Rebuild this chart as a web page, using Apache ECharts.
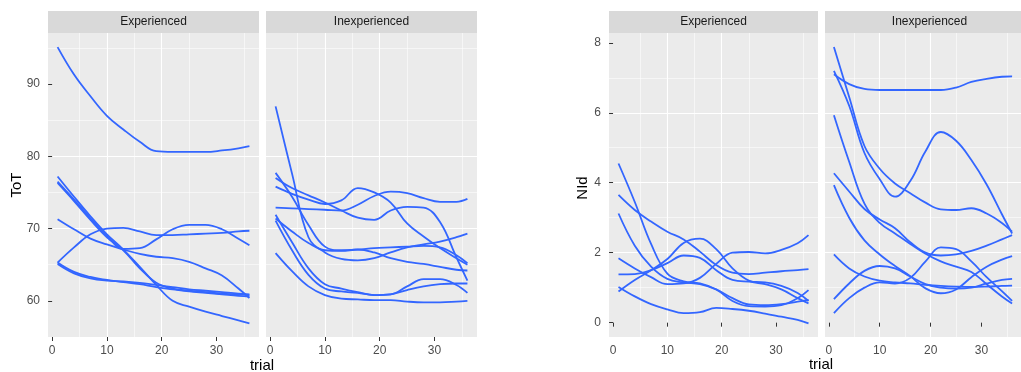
<!DOCTYPE html>
<html>
<head>
<meta charset="utf-8">
<script src="https://cdn.jsdelivr.net/npm/echarts@6/dist/echarts.min.js"></script>
<style>
  html, body { margin: 0; padding: 0; background: #ffffff; }
  #chart { width: 1021px; height: 372px; }
</style>
</head>
<body>
<div id="chart"></div>
<script>
// Trial numbers at which each smoothed curve is sampled
const trials = [1, 4, 7, 10, 13, 16, 19, 22, 25, 28, 31, 34, 36];

// Tick labels
const trialTicks = [0, 10, 20, 30];
const totTicks = [60, 70, 80, 90];
const nidTicks = [0, 2, 4, 6, 8];

// Facet names
const facets = ['Experienced', 'Inexperienced'];

// Time on task (ToT), one smoothed curve per participant
const totExperienced = [
  [95.1, 91.3, 88.3, 85.6, 83.7, 82.0, 80.7, 80.6, 80.6, 80.6, 80.8, 81.1, 81.4],
  [77.2, 74.4, 71.7, 69.2, 67.1, 64.7, 62.2, 60.0, 59.2, 58.5, 57.9, 57.3, 56.9],
  [76.5, 74.0, 71.4, 69.0, 67.2, 67.3, 68.5, 69.9, 70.5, 70.5, 69.9, 68.6, 67.7],
  [76.3, 73.8, 71.2, 68.8, 67.0, 64.5, 62.5, 61.7, 61.4, 61.2, 61.0, 60.9, 60.8],
  [71.3, 69.9, 68.6, 67.8, 67.1, 66.5, 66.1, 65.9, 65.4, 64.5, 63.5, 61.7, 60.4],
  [65.3, 67.4, 69.2, 70.0, 70.1, 69.6, 69.1, 69.1, 69.2, 69.3, 69.4, 69.6, 69.7],
  [65.3, 64.0, 63.3, 62.9, 62.6, 62.3, 61.9, 61.6, 61.3, 61.1, 60.9, 60.7, 60.6],
  [65.1, 63.8, 63.1, 62.8, 62.7, 62.5, 62.2, 61.9, 61.6, 61.4, 61.2, 61.0, 60.9]
];
const totInexperienced = [
  [86.9, 77.6, 68.8, 66.7, 65.8, 65.6, 65.9, 66.7, 67.4, 67.8, 68.2, 68.8, 69.3],
  [77.7, 74.4, 70.5, 67.5, 67.0, 67.1, 67.3, 67.4, 67.5, 67.6, 67.4, 66.3, 65.2],
  [77.0, 75.6, 74.6, 73.6, 72.5, 71.5, 71.2, 72.5, 73.0, 72.9, 70.9, 66.0, 62.8],
  [75.8, 74.8, 74.0, 73.4, 73.9, 75.6, 75.0, 73.6, 70.7, 68.9, 67.3, 65.9, 65.0],
  [72.9, 72.8, 72.7, 72.6, 72.5, 73.3, 74.5, 75.1, 74.9, 74.2, 73.7, 73.7, 74.1],
  [71.4, 69.6, 68.0, 67.0, 66.9, 67.1, 66.7, 65.9, 65.4, 65.1, 64.7, 64.3, 64.2],
  [71.9, 68.1, 64.5, 62.3, 61.7, 61.2, 60.8, 60.9, 62.0, 63.0, 63.0, 62.2, 61.1],
  [71.1, 67.0, 63.6, 61.7, 61.3, 61.1, 60.8, 60.9, 61.5, 62.0, 62.3, 62.4, 62.4],
  [66.6, 64.1, 62.0, 60.8, 60.3, 60.2, 60.1, 60.1, 59.9, 59.8, 59.8, 59.9, 60.0]
];

// NId, one smoothed curve per participant
const nidExperienced = [
  [4.55, 3.45, 2.25, 1.40, 1.18, 1.12, 0.95, 0.62, 0.47, 0.46, 0.50, 0.70, 0.93],
  [3.65, 3.22, 2.89, 2.60, 2.38, 2.03, 1.65, 1.43, 1.39, 1.43, 1.47, 1.50, 1.53],
  [3.12, 2.20, 1.60, 1.25, 1.15, 1.10, 0.95, 0.70, 0.52, 0.50, 0.53, 0.60, 0.65],
  [1.84, 1.55, 1.30, 1.10, 1.12, 1.28, 1.68, 2.00, 2.02, 1.98, 2.08, 2.27, 2.50],
  [1.38, 1.39, 1.50, 1.70, 1.92, 1.85, 1.50, 1.22, 1.17, 1.15, 1.05, 0.85, 0.62],
  [1.02, 0.75, 0.53, 0.38, 0.27, 0.30, 0.42, 0.39, 0.34, 0.26, 0.17, 0.08, -0.02],
  [0.89, 1.22, 1.50, 1.82, 2.28, 2.40, 2.10, 1.55, 1.20, 1.10, 0.95, 0.70, 0.55]
];
const nidInexperienced = [
  [7.10, 6.82, 6.68, 6.65, 6.65, 6.65, 6.65, 6.65, 6.72, 6.88, 6.97, 7.03, 7.04],
  [7.88, 6.45, 5.05, 4.40, 3.98, 3.70, 3.43, 3.24, 3.22, 3.27, 3.12, 2.85, 2.60],
  [7.20, 6.20, 4.85, 4.10, 3.60, 4.05, 4.90, 5.45, 5.20, 4.65, 3.95, 3.10, 2.55],
  [5.93, 4.60, 3.40, 2.85, 2.55, 2.25, 1.97, 1.75, 1.60, 1.45, 1.10, 0.75, 0.55],
  [4.27, 3.75, 3.25, 2.95, 2.70, 2.30, 2.00, 1.92, 1.95, 2.05, 2.20, 2.38, 2.50],
  [3.93, 3.00, 2.35, 1.95, 1.62, 1.33, 0.98, 0.84, 0.95, 1.30, 1.60, 1.80, 1.90],
  [1.95, 1.55, 1.32, 1.20, 1.15, 1.12, 1.08, 1.05, 1.03, 1.02, 1.03, 1.05, 1.06],
  [0.67, 1.12, 1.48, 1.62, 1.55, 1.32, 1.10, 1.00, 0.97, 1.00, 1.12, 1.22, 1.25],
  [0.27, 0.70, 1.00, 1.15, 1.12, 1.28, 1.75, 2.15, 2.10, 1.75, 1.30, 0.90, 0.62]
];

// ---- look and layout ----
const FONT = '"Liberation Sans", Arial, sans-serif';
const PANEL_BG = '#EBEBEB';
const STRIP_BG = '#D9D9D9';
const LINE_COLOR = '#3366FF';
const PANEL_TOP = 33;
const PANEL_H = 304;
const STRIP_H = 22;

// x range padded like ggplot (5% each side of 1..36)
const X_RANGE = [-0.75, 37.75];
const TOT_RANGE = [55.0, 97.05];
const NID_RANGE = [-0.41, 8.28];

const panels = [
  { left: 48,  width: 211, facet: facets[0], lines: totExperienced,   range: TOT_RANGE, ticks: totTicks, outer: true  },
  { left: 266, width: 211, facet: facets[1], lines: totInexperienced, range: TOT_RANGE, ticks: totTicks, outer: false },
  { left: 609, width: 209, facet: facets[0], lines: nidExperienced,   range: NID_RANGE, ticks: nidTicks, outer: true  },
  { left: 825, width: 209, facet: facets[1], lines: nidInexperienced, range: NID_RANGE, ticks: nidTicks, outer: false }
];

const grid = [], xAxis = [], yAxis = [], series = [], graphic = [];

const gridLines = {
  splitLine: { show: true, showMinLine: false, showMaxLine: false, lineStyle: { color: '#FFFFFF', width: 1.1 } },
  minorTick: { show: false, splitNumber: 2 },
  minorSplitLine: { show: true, lineStyle: { color: '#FFFFFF', width: 0.55 } }
};

panels.forEach((p, i) => {
  grid.push({
    left: p.left, top: PANEL_TOP, width: p.width, height: PANEL_H,
    show: true, backgroundColor: PANEL_BG, borderWidth: 0
  });

  xAxis.push(Object.assign({
    type: 'value', gridIndex: i, min: X_RANGE[0], max: X_RANGE[1],
    axisLine: { show: false },
    axisTick: { show: true, length: 4, customValues: trialTicks, lineStyle: { color: '#333333', width: 1 } },
    axisLabel: { show: true, customValues: trialTicks, margin: 8, color: '#4D4D4D', fontSize: 12, fontFamily: FONT }
  }, gridLines));

  yAxis.push(Object.assign({
    type: 'value', gridIndex: i, min: p.range[0], max: p.range[1],
    axisLine: { show: false },
    axisTick: { show: p.outer, length: 4, customValues: p.ticks, lineStyle: { color: '#333333', width: 1 } },
    axisLabel: { show: p.outer, customValues: p.ticks, margin: 8, color: '#4D4D4D', fontSize: 12, fontFamily: FONT }
  }, gridLines));

  p.lines.forEach(vals => {
    series.push({
      type: 'line', xAxisIndex: i, yAxisIndex: i,
      data: trials.map((t, k) => [t, vals[k]]),
      smooth: 0.4, showSymbol: false, silent: true,
      lineStyle: { color: LINE_COLOR, width: 1.8 }
    });
  });

  // facet strip
  graphic.push({
    type: 'rect', silent: true,
    shape: { x: p.left, y: PANEL_TOP - STRIP_H, width: p.width, height: STRIP_H },
    style: { fill: STRIP_BG }
  });
  graphic.push({
    type: 'text', silent: true,
    x: p.left + p.width / 2, y: PANEL_TOP - STRIP_H / 2,
    style: { text: p.facet, fill: '#1A1A1A', font: '12px ' + FONT, align: 'center', verticalAlign: 'middle' }
  });
});

// axis titles
const titleFont = '15px ' + FONT;
graphic.push(
  { type: 'text', silent: true, x: 17, y: 185, rotation: Math.PI / 2,
    style: { text: 'ToT', fill: '#000000', font: titleFont, align: 'center', verticalAlign: 'middle' } },
  { type: 'text', silent: true, x: 262, y: 366,
    style: { text: 'trial', fill: '#000000', font: titleFont, align: 'center', verticalAlign: 'middle' } },
  { type: 'text', silent: true, x: 583, y: 188, rotation: Math.PI / 2,
    style: { text: 'NId', fill: '#000000', font: titleFont, align: 'center', verticalAlign: 'middle' } },
  { type: 'text', silent: true, x: 821, y: 365,
    style: { text: 'trial', fill: '#000000', font: titleFont, align: 'center', verticalAlign: 'middle' } }
);

const chart = echarts.init(document.getElementById('chart'), null, { renderer: 'canvas' });
chart.setOption({
  animation: false,
  backgroundColor: '#FFFFFF',
  grid, xAxis, yAxis, series, graphic
});
</script>
</body>
</html>
